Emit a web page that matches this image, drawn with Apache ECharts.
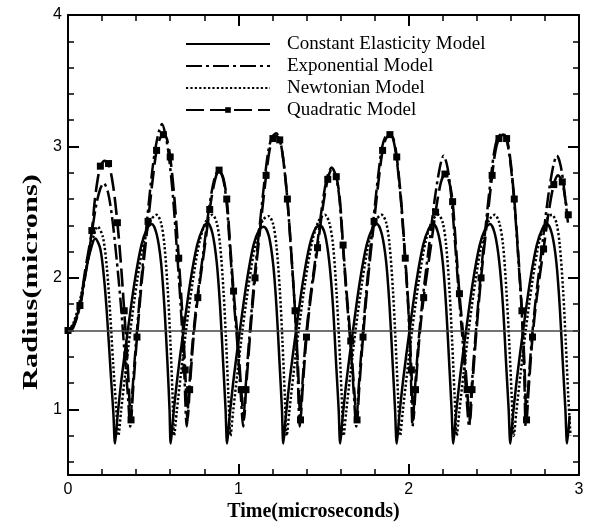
<!DOCTYPE html>
<html>
<head>
<meta charset="utf-8">
<script src="https://cdn.jsdelivr.net/npm/echarts@6/dist/echarts.min.js"></script>
<style>
  html, body { margin: 0; padding: 0; background: #fff; }
  #chart { width: 590px; height: 527px; }
</style>
</head>
<body>
<div id="chart"></div>
<script>
// Bubble radius (microns) versus time (microseconds) for four shell models.
const SERIES_NAMES = ['Constant Elasticity Model', 'Exponential Model', 'Newtonian Model', 'Quadratic Model'];
const X_TITLE = 'Time(microseconds)';
const Y_TITLE = 'Radius(microns)';

const X_MIN = 0, X_MAX = 3, X_STEP = 1;
const Y_MIN = 0.5, Y_MAX = 4;
const Y_MAJOR_TICKS = [1, 2, 3, 4];
const Y_MINOR_TICKS = [0.6, 0.8, 1.2, 1.4, 1.6, 1.8, 2.2, 2.4, 2.6, 2.8, 3.2, 3.4, 3.6, 3.8];
const EQUILIBRIUM_RADIUS = 1.6;

// [time, radius]
const CONSTANT_ELASTICITY = [
  [0, 1.60], [0.03, 1.64], [0.07, 1.79], [0.10, 2.02], [0.13, 2.20], [0.16, 2.30], [0.19, 2.22], [0.215, 1.95], [0.235, 1.60], [0.252, 1.25], [0.266, 0.98],
  [0.276, 0.74], [0.291, 0.95], [0.316, 1.25], [0.351, 1.60], [0.391, 1.97], [0.431, 2.25], [0.466, 2.38], [0.492, 2.41], [0.521, 2.33], [0.546, 2.12], [0.566, 1.78], [0.584, 1.35], [0.596, 1.00],
  [0.603, 0.74], [0.618, 0.95], [0.643, 1.25], [0.678, 1.60], [0.718, 1.97], [0.758, 2.25], [0.793, 2.38], [0.819, 2.42], [0.848, 2.34], [0.873, 2.12], [0.893, 1.78], [0.911, 1.35], [0.925, 1.00],
  [0.934, 0.74], [0.949, 0.95], [0.974, 1.25], [1.009, 1.60], [1.049, 1.97], [1.089, 2.25], [1.124, 2.37], [1.150, 2.39], [1.179, 2.32], [1.204, 2.11], [1.224, 1.78], [1.242, 1.35], [1.256, 1.00],
  [1.264, 0.74], [1.279, 0.95], [1.304, 1.25], [1.339, 1.60], [1.379, 1.97], [1.419, 2.25], [1.454, 2.38], [1.480, 2.40], [1.509, 2.33], [1.534, 2.12], [1.556, 1.78], [1.574, 1.35], [1.589, 1.00],
  [1.598, 0.74], [1.613, 0.95], [1.638, 1.25], [1.673, 1.60], [1.713, 1.97], [1.753, 2.25], [1.788, 2.38], [1.814, 2.41], [1.843, 2.33], [1.868, 2.12], [1.888, 1.78], [1.906, 1.35], [1.920, 1.00],
  [1.930, 0.74], [1.945, 0.95], [1.970, 1.25], [2.005, 1.60], [2.045, 1.97], [2.085, 2.25], [2.120, 2.38], [2.146, 2.41], [2.175, 2.33], [2.200, 2.12], [2.220, 1.78], [2.238, 1.35], [2.252, 1.00],
  [2.262, 0.74], [2.277, 0.95], [2.302, 1.25], [2.337, 1.60], [2.377, 1.97], [2.417, 2.25], [2.452, 2.38], [2.478, 2.41], [2.507, 2.33], [2.532, 2.12], [2.554, 1.78], [2.572, 1.35], [2.587, 1.00],
  [2.597, 0.74], [2.612, 0.95], [2.637, 1.25], [2.672, 1.60], [2.712, 1.97], [2.752, 2.25], [2.787, 2.38], [2.813, 2.41], [2.842, 2.33], [2.867, 2.12], [2.887, 1.78], [2.905, 1.35], [2.920, 1.00],
  [2.930, 0.74], [2.945, 0.95]
];

const EXPONENTIAL = [
  [0, 1.60], [0.03, 1.63], [0.07, 1.78], [0.10, 2.00], [0.135, 2.30], [0.165, 2.55], [0.19, 2.68], [0.21, 2.72], [0.235, 2.65], [0.26, 2.45], [0.285, 2.15], [0.31, 1.80], [0.335, 1.38], [0.352, 1.10],
  [0.365, 0.87], [0.377, 1.12], [0.400, 1.52], [0.430, 1.98], [0.465, 2.45], [0.495, 2.82], [0.515, 3.00], [0.535, 3.12], [0.552, 3.17], [0.570, 3.10], [0.590, 2.95], [0.615, 2.64], [0.640, 2.20], [0.662, 1.78], [0.682, 1.30],
  [0.697, 0.87], [0.709, 1.12], [0.732, 1.52], [0.757, 1.83], [0.797, 2.22], [0.827, 2.52], [0.857, 2.74], [0.884, 2.82], [0.909, 2.76], [0.929, 2.60], [0.949, 2.26], [0.969, 1.90], [0.994, 1.50], [1.014, 1.12],
  [1.028, 0.87], [1.040, 1.12], [1.063, 1.52], [1.093, 1.98], [1.128, 2.43], [1.158, 2.79], [1.178, 2.98], [1.198, 3.07], [1.222, 3.10], [1.242, 3.06], [1.262, 2.92], [1.287, 2.61], [1.312, 2.16], [1.332, 1.76], [1.348, 1.30],
  [1.360, 0.87], [1.372, 1.12], [1.395, 1.52], [1.420, 1.83], [1.460, 2.22], [1.490, 2.53], [1.520, 2.76], [1.548, 2.84], [1.573, 2.77], [1.593, 2.61], [1.613, 2.26], [1.633, 1.90], [1.658, 1.50], [1.678, 1.12],
  [1.692, 0.87], [1.704, 1.12], [1.727, 1.52], [1.757, 1.98], [1.792, 2.43], [1.822, 2.79], [1.842, 2.98], [1.862, 3.07], [1.888, 3.10], [1.908, 3.06], [1.928, 2.92], [1.953, 2.61], [1.978, 2.16], [1.998, 1.76], [2.012, 1.30],
  [2.023, 0.87], [2.035, 1.12], [2.058, 1.52], [2.083, 1.85], [2.123, 2.28], [2.153, 2.60], [2.183, 2.84], [2.205, 2.93], [2.228, 2.84], [2.250, 2.62], [2.272, 2.27], [2.293, 1.90], [2.318, 1.50], [2.338, 1.12],
  [2.355, 0.87], [2.367, 1.12], [2.390, 1.52], [2.420, 1.98], [2.455, 2.43], [2.485, 2.79], [2.505, 2.98], [2.525, 3.07], [2.553, 3.10], [2.573, 3.06], [2.593, 2.92], [2.618, 2.61], [2.643, 2.16], [2.663, 1.76], [2.678, 1.30],
  [2.687, 0.87], [2.699, 1.12], [2.722, 1.52], [2.747, 1.85], [2.787, 2.28], [2.817, 2.60], [2.847, 2.84], [2.870, 2.93], [2.893, 2.85], [2.915, 2.65], [2.935, 2.42]
];

const NEWTONIAN = [
  [0, 1.60], [0.03, 1.65], [0.065, 1.80], [0.10, 2.02], [0.14, 2.27], [0.175, 2.39], [0.205, 2.31], [0.228, 2.08], [0.248, 1.72], [0.265, 1.35], [0.281, 1.05],
  [0.296, 0.80], [0.311, 0.98], [0.336, 1.27], [0.366, 1.60], [0.406, 1.98], [0.446, 2.28], [0.486, 2.44], [0.520, 2.48], [0.546, 2.42], [0.566, 2.25], [0.586, 1.90], [0.601, 1.52], [0.614, 1.10],
  [0.623, 0.80], [0.638, 0.98], [0.663, 1.27], [0.693, 1.60], [0.733, 1.98], [0.773, 2.28], [0.813, 2.44], [0.847, 2.48], [0.873, 2.42], [0.893, 2.25], [0.913, 1.90], [0.928, 1.52], [0.942, 1.10],
  [0.954, 0.80], [0.969, 0.98], [0.994, 1.27], [1.024, 1.60], [1.064, 1.98], [1.104, 2.28], [1.144, 2.44], [1.178, 2.47], [1.204, 2.41], [1.224, 2.24], [1.244, 1.90], [1.259, 1.52], [1.273, 1.10],
  [1.284, 0.80], [1.299, 0.98], [1.324, 1.27], [1.354, 1.60], [1.394, 1.98], [1.434, 2.28], [1.474, 2.44], [1.508, 2.48], [1.534, 2.42], [1.556, 2.25], [1.576, 1.90], [1.592, 1.52], [1.607, 1.10],
  [1.618, 0.80], [1.633, 0.98], [1.658, 1.27], [1.688, 1.60], [1.728, 1.98], [1.768, 2.28], [1.808, 2.44], [1.842, 2.48], [1.868, 2.42], [1.888, 2.25], [1.908, 1.90], [1.923, 1.52], [1.938, 1.10],
  [1.950, 0.80], [1.965, 0.98], [1.990, 1.27], [2.020, 1.60], [2.060, 1.98], [2.100, 2.28], [2.140, 2.44], [2.174, 2.48], [2.200, 2.42], [2.220, 2.25], [2.240, 1.90], [2.255, 1.52], [2.270, 1.10],
  [2.282, 0.80], [2.297, 0.98], [2.322, 1.27], [2.352, 1.60], [2.392, 1.98], [2.432, 2.28], [2.472, 2.44], [2.506, 2.48], [2.532, 2.42], [2.554, 2.25], [2.574, 1.90], [2.590, 1.52], [2.605, 1.10],
  [2.617, 0.80], [2.632, 0.98], [2.657, 1.27], [2.687, 1.60], [2.727, 1.98], [2.767, 2.28], [2.807, 2.44], [2.841, 2.48], [2.867, 2.42], [2.887, 2.25], [2.907, 1.90], [2.922, 1.52], [2.937, 1.10],
  [2.950, 0.80]
];

const QUADRATIC = [
  [0, 1.60], [0.03, 1.62], [0.07, 1.79], [0.10, 2.05], [0.14, 2.36], [0.16, 2.62], [0.19, 2.85], [0.215, 2.89], [0.238, 2.87], [0.265, 2.70], [0.29, 2.42], [0.31, 2.12], [0.33, 1.75], [0.35, 1.35],
  [0.370, 0.92], [0.382, 1.15], [0.405, 1.55], [0.435, 2.00], [0.470, 2.43], [0.500, 2.78], [0.520, 2.97], [0.540, 3.06], [0.560, 3.09], [0.580, 3.06], [0.600, 2.92], [0.625, 2.60], [0.650, 2.15], [0.670, 1.75], [0.688, 1.30],
  [0.702, 0.92], [0.714, 1.15], [0.737, 1.55], [0.762, 1.85], [0.802, 2.23], [0.832, 2.52], [0.862, 2.74], [0.887, 2.82], [0.912, 2.76], [0.932, 2.60], [0.952, 2.25], [0.972, 1.90], [0.997, 1.52], [1.017, 1.15],
  [1.033, 0.92], [1.045, 1.15], [1.068, 1.55], [1.098, 2.00], [1.133, 2.43], [1.163, 2.78], [1.183, 2.97], [1.203, 3.06], [1.223, 3.08], [1.243, 3.05], [1.263, 2.91], [1.288, 2.60], [1.313, 2.15], [1.333, 1.75], [1.351, 1.30],
  [1.365, 0.92], [1.377, 1.15], [1.400, 1.55], [1.425, 1.85], [1.465, 2.23], [1.495, 2.53], [1.525, 2.75], [1.550, 2.83], [1.575, 2.77], [1.595, 2.61], [1.615, 2.25], [1.635, 1.90], [1.660, 1.52], [1.680, 1.15],
  [1.697, 0.92], [1.709, 1.15], [1.732, 1.55], [1.762, 2.00], [1.797, 2.43], [1.827, 2.78], [1.847, 2.97], [1.867, 3.06], [1.890, 3.09], [1.910, 3.06], [1.930, 2.92], [1.955, 2.60], [1.980, 2.15], [2.000, 1.75], [2.016, 1.30],
  [2.028, 0.92], [2.040, 1.15], [2.063, 1.55], [2.088, 1.85], [2.128, 2.22], [2.158, 2.50], [2.188, 2.72], [2.213, 2.79], [2.238, 2.73], [2.258, 2.58], [2.278, 2.23], [2.298, 1.88], [2.323, 1.52], [2.343, 1.15],
  [2.360, 0.92], [2.372, 1.15], [2.395, 1.55], [2.425, 2.00], [2.460, 2.43], [2.490, 2.78], [2.510, 2.97], [2.530, 3.06], [2.555, 3.09], [2.575, 3.06], [2.595, 2.92], [2.620, 2.60], [2.645, 2.15], [2.665, 1.75], [2.681, 1.30],
  [2.692, 0.92], [2.704, 1.15], [2.727, 1.55], [2.752, 1.85], [2.792, 2.22], [2.822, 2.50], [2.852, 2.71], [2.877, 2.78], [2.902, 2.73], [2.922, 2.58], [2.937, 2.48]
];

const INK = '#000';
const SANS = '"Liberation Sans", Arial, sans-serif';
const SERIF = '"Liberation Serif", "Times New Roman", serif';

const chart = echarts.init(document.getElementById('chart'), null, { renderer: 'canvas' });

function xAxisDef(position, showLabels) {
  return {
    type: 'value', position, min: X_MIN, max: X_MAX, interval: X_STEP,
    name: showLabels ? X_TITLE : '',
    nameLocation: 'middle', nameGap: 24,
    nameTextStyle: { fontFamily: SERIF, fontWeight: 'bold', fontSize: 20, color: INK, padding: [0, 20, 0, 0] },
    axisLine: { show: true, onZero: false, lineStyle: { color: INK, width: 2 } },
    axisTick: { show: true, inside: true, length: 11, lineStyle: { color: INK, width: 2 } },
    minorTick: { show: true, splitNumber: 5, length: 6, lineStyle: { color: INK, width: 1.5 } },
    axisLabel: { show: showLabels, margin: 6, fontFamily: SANS, fontSize: 16, color: INK },
    splitLine: { show: false }, minorSplitLine: { show: false }
  };
}

function yAxisDef(position, major, showLabels) {
  const ticks = major ? Y_MAJOR_TICKS : Y_MINOR_TICKS;
  return {
    type: 'value', position, min: Y_MIN, max: Y_MAX,
    axisLine: { show: major, onZero: false, lineStyle: { color: INK, width: 2 } },
    axisTick: { show: true, inside: true, customValues: ticks, length: major ? 11 : 6,
                lineStyle: { color: INK, width: major ? 2 : 1.5 } },
    axisLabel: { show: showLabels, customValues: Y_MAJOR_TICKS, margin: 6, fontFamily: SANS, fontSize: 16, color: INK },
    splitLine: { show: false }
  };
}

const quadData = QUADRATIC.map((p, i) => ({ value: p, symbol: i % 2 === 0 ? 'rect' : 'none' }));

const option = {
  animation: false,
  backgroundColor: '#fff',
  grid: { left: 68, right: 11, top: 15, bottom: 47, containLabel: false },
  xAxis: [xAxisDef('bottom', true), xAxisDef('top', false)],
  yAxis: [
    yAxisDef('left', true, true), yAxisDef('left', false, false),
    yAxisDef('right', true, false), yAxisDef('right', false, false)
  ],
  // vertical title, drawn a little elongated along its reading direction
  graphic: [{
    type: 'text', x: 32, y: 282, rotation: Math.PI / 2, scaleX: 1.45,
    style: { text: Y_TITLE, fontFamily: SERIF, fontWeight: 'bold', fontSize: 21, fill: INK,
             align: 'center', verticalAlign: 'middle' }
  }],
  legend: {
    orient: 'vertical', left: 185, top: 33, padding: 0,
    itemWidth: 84, itemHeight: 7, itemGap: 0,
    textStyle: { fontFamily: SERIF, fontSize: 19, color: INK, lineHeight: 22, padding: [0, 0, 0, 12] },
    data: [
      { name: SERIES_NAMES[0], itemStyle: { opacity: 0 } },
      { name: SERIES_NAMES[1], itemStyle: { opacity: 0 } },
      { name: SERIES_NAMES[2], itemStyle: { opacity: 0 } },
      { name: SERIES_NAMES[3] }
    ]
  },
  series: [
    {
      name: SERIES_NAMES[0], type: 'line', data: CONSTANT_ELASTICITY, smooth: 0.3,
      symbol: 'none', lineStyle: { color: INK, width: 2.5, type: 'solid' }, itemStyle: { color: INK },
      markLine: {
        silent: true, symbol: 'none', label: { show: false },
        lineStyle: { color: '#444', width: 1.6, type: 'solid' },
        data: [{ yAxis: EQUILIBRIUM_RADIUS }]
      }
    },
    {
      name: SERIES_NAMES[1], type: 'line', data: EXPONENTIAL, smooth: 0.3,
      symbol: 'none', lineStyle: { color: INK, width: 2.5, type: [16, 4, 3, 4] }, itemStyle: { color: INK }
    },
    {
      name: SERIES_NAMES[2], type: 'line', data: NEWTONIAN, smooth: 0.3,
      symbol: 'none', lineStyle: { color: INK, width: 2.5, type: [2.2, 2.2] }, itemStyle: { color: INK }
    },
    {
      name: SERIES_NAMES[3], type: 'line', data: quadData, smooth: 0.3,
      symbol: 'rect', symbolSize: 7, showSymbol: true,
      lineStyle: { color: INK, width: 2.6, type: [18, 6] }, itemStyle: { color: INK }
    }
  ]
};

chart.setOption(option);
</script>
</body>
</html>
